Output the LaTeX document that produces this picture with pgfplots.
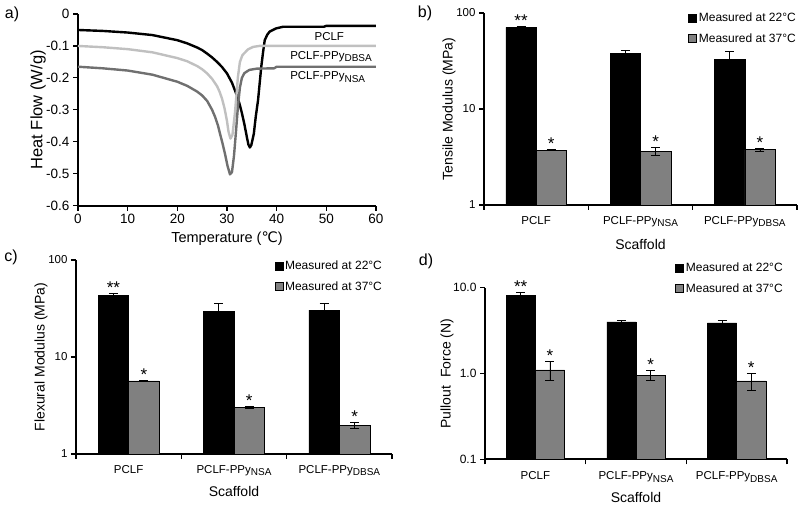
\documentclass[border=0pt]{standalone}
\usepackage{fontspec}
\setmainfont{Liberation Sans}
\newfontfamily\dejavu{DejaVu Sans}
\usepackage{pgfplots}
\pgfplotsset{compat=1.18}

\newcommand\fs[1]{\fontsize{#1bp}{#1bp}\selectfont}
\newcommand\sub[1]{\raisebox{-0.4ex}{\fs{10}#1}}
\definecolor{barg}{RGB}{128,128,128}
\definecolor{lgrey}{RGB}{192,192,192}
\definecolor{dgrey}{RGB}{112,112,112}

\pgfplotsset{
  mypanel/.style={
    scale only axis, anchor=south west, clip=false,
    axis x line*=bottom, axis y line*=left,
    axis line style={line width=1.8bp, -},
    tick align=outside,
    major tick length=5bp, minor tick length=5bp,
    tick style={black, line width=1.2bp},
  },
}
\tikzset{sig/.style={anchor=base, font=\fs{17}, inner sep=0pt}}

\begin{document}
\begin{tikzpicture}
\path[use as bounding box] (0,0) rectangle (800bp,507bp);

% a) DSC curves
\begin{axis}[mypanel, at={(78bp,301.3bp)}, width=298bp, height=191.7bp,
    xmin=0, xmax=60, ymin=-0.6, ymax=0,
    xtick={0,10,20,30,40,50,60}, xticklabels={0,10,20,30,40,50,60},
    ytick={-0.6,-0.5,-0.4,-0.3,-0.2,-0.1,0},
    yticklabels={-0.6,-0.5,-0.4,-0.3,-0.2,-0.1,0},
    ticklabel style={font=\fs{13.5}},
    xlabel={Temperature ({\dejavu ℃})}, ylabel={Heat Flow (W/g)},
    xlabel style={font=\fs{14.5}, at={(axis description cs:0.5,0)}, anchor=center, yshift=-33bp},
    ylabel style={font=\fs{16.5}, at={(axis description cs:0,0.5)}, anchor=center, yshift=40bp},
  ]
\addplot[black, line width=2.4bp, line join=round] coordinates {
(0,-0.050) (5,-0.053) (10,-0.058) (15,-0.066) (20,-0.082) (22,-0.092) (24,-0.105)
(25,-0.113) (26,-0.124) (27,-0.136) (28,-0.150) (29,-0.166) (30,-0.186) (31,-0.215)
(32,-0.255) (32.5,-0.280) (33,-0.310) (33.5,-0.345) (34,-0.385) (34.3,-0.408)
(34.6,-0.418) (34.9,-0.410) (35.4,-0.375) (35.8,-0.320) (36.25,-0.270) (36.9,-0.165)
(37.3,-0.115) (37.6,-0.082) (38.1,-0.065) (38.6,-0.055) (39.9,-0.045) (41.3,-0.040)
(49.5,-0.040) (50,-0.037) (60,-0.037)
};
\addplot[lgrey, line width=2.4bp, line join=round] coordinates {
(0,-0.100) (5,-0.104) (10,-0.110) (15,-0.120) (20,-0.138) (22,-0.148) (24,-0.163)
(25,-0.173) (26,-0.186) (27,-0.203) (28,-0.226) (28.5,-0.243) (29,-0.265) (29.5,-0.295)
(30,-0.335) (30.3,-0.368) (30.7,-0.390) (31.1,-0.378) (31.6,-0.310) (32.2,-0.197)
(32.6,-0.150) (33.1,-0.129) (34.2,-0.111) (35.25,-0.103) (36.5,-0.100) (60,-0.100)
};
\addplot[dgrey, line width=2.4bp, line join=round] coordinates {
(0,-0.165) (5,-0.170) (10,-0.177) (15,-0.190) (20,-0.212) (22,-0.225) (24,-0.243)
(25,-0.255) (26,-0.272) (27,-0.300) (27.6,-0.322) (28.2,-0.350) (28.6,-0.375)
(29.1,-0.405) (29.6,-0.438) (30.1,-0.475) (30.6,-0.502) (31,-0.495) (31.4,-0.445)
(31.8,-0.370) (32.2,-0.290) (32.6,-0.230) (33,-0.200) (33.5,-0.185) (34.5,-0.175)
(36,-0.171) (39.5,-0.170) (40,-0.165) (60,-0.165)
};
\node[font=\fs{11.5}, anchor=west, inner sep=0pt] at (axis cs:47.6,-0.071) {PCLF};
\node[font=\fs{11.5}, anchor=west, inner sep=0pt] at (axis cs:42.7,-0.134) {PCLF-PPy\sub{DBSA}};
\node[font=\fs{11.5}, anchor=west, inner sep=0pt] at (axis cs:42.7,-0.197) {PCLF-PPy\sub{NSA}};
\end{axis}

% b) tensile modulus
\begin{axis}[ybar, ymode=log, mypanel,
    at={(484bp,302bp)}, width=313bp, height=192bp,
    xmin=0.5, xmax=3.5, xtick={1,2,3},
    minor xtick={0.5,1.5,2.5,3.5}, major x tick style={draw=none},
    xticklabels={PCLF, PCLF-PPy\sub{NSA}, PCLF-PPy\sub{DBSA}},
    ymin=1, ymax=100, ytick={1,10,100}, yticklabels={1,10,100},
    yminorticks=false,
    ticklabel style={font=\fs{11.5}}, xticklabel style={yshift=-3bp},
    xlabel={Scaffold}, ylabel={Tensile Modulus (MPa)},
    label style={font=\fs{14}},
    xlabel style={at={(axis description cs:0.5,0)}, anchor=center, yshift=-39bp},
    ylabel style={at={(axis description cs:0,0.5)}, anchor=center, yshift=35bp},
    bar width=0.29,
    legend image code/.code={\draw[#1, line width=0.5bp] (0bp,-4bp) rectangle (8bp,4bp);},
    legend cell align=left,
    legend style={draw=none, fill=none, font=\fs{12}, inner sep=0pt, row sep=6bp,
      at={(1.003,1.01)}, anchor=north east},
  ]
\addplot[fill=black, draw=black, line width=0.5bp, bar shift=-0.145,
    error bars/.cd, y dir=both, y explicit,
    error bar style={black, line width=0.8bp},
    error mark options={rotate=90, black, mark size=4.5bp, line width=0.8bp}]
  coordinates {(1,71) +- (0,1.5) (2,38) +- (0,2.5) (3,33) +- (0,6.5)};
\addplot[fill=barg, draw=black, line width=0.5bp, bar shift=0.145,
    error bars/.cd, y dir=both, y explicit,
    error bar style={black, line width=0.8bp},
    error mark options={rotate=90, black, mark size=4.5bp, line width=0.8bp}]
  coordinates {(1,3.74) +- (0,0.05) (2,3.65) +- (0,0.34) (3,3.77) +- (0,0.12)};
\legend{Measured at 22°C, Measured at 37°C}
\node[sig] at (axis cs:0.855,72.5) {**};
\node[sig] at (axis cs:1.145,3.79) {*};
\node[sig] at (axis cs:2.145,3.99) {*};
\node[sig] at (axis cs:3.145,3.89) {*};
\end{axis}

% c) flexural modulus
\begin{axis}[ybar, ymode=log, mypanel,
    at={(76bp,53bp)}, width=316bp, height=194bp,
    xmin=0.5, xmax=3.5, xtick={1,2,3},
    minor xtick={0.5,1.5,2.5,3.5}, major x tick style={draw=none},
    xticklabels={PCLF, PCLF-PPy\sub{NSA}, PCLF-PPy\sub{DBSA}},
    ymin=1, ymax=100, ytick={1,10,100}, yticklabels={1,10,100},
    yminorticks=false,
    ticklabel style={font=\fs{11.5}}, xticklabel style={yshift=-3bp},
    xlabel={Scaffold}, ylabel={Flexural Modulus (MPa)},
    label style={font=\fs{14}},
    xlabel style={at={(axis description cs:0.5,0)}, anchor=center, yshift=-37bp},
    ylabel style={at={(axis description cs:0,0.5)}, anchor=center, yshift=35bp},
    bar width=0.29,
    legend image code/.code={\draw[#1, line width=0.5bp] (0bp,-4bp) rectangle (8bp,4bp);},
    legend cell align=left,
    legend style={draw=none, fill=none, font=\fs{12}, inner sep=0pt, row sep=6bp,
      at={(0.975,1.005)}, anchor=north east},
  ]
\addplot[fill=black, draw=black, line width=0.5bp, bar shift=-0.145,
    error bars/.cd, y dir=both, y explicit,
    error bar style={black, line width=0.8bp},
    error mark options={rotate=90, black, mark size=4.5bp, line width=0.8bp}]
  coordinates {(1,42.9) +- (0,2.5) (2,29.8) +- (0,6) (3,30.5) +- (0,5.3)};
\addplot[fill=barg, draw=black, line width=0.5bp, bar shift=0.145,
    error bars/.cd, y dir=both, y explicit,
    error bar style={black, line width=0.8bp},
    error mark options={rotate=90, black, mark size=4.5bp, line width=0.8bp}]
  coordinates {(1,5.66) +- (0,0.05) (2,3.03) +- (0,0.05) (3,1.99) +- (0,0.14)};
\legend{Measured at 22°C, Measured at 37°C}
\node[sig] at (axis cs:0.855,45.4) {**};
\node[sig] at (axis cs:1.145,5.71) {*};
\node[sig] at (axis cs:2.145,3.08) {*};
\node[sig] at (axis cs:3.145,2.13) {*};
\end{axis}

% d) pullout force
\begin{axis}[ybar, ymode=log, log origin y=infty, mypanel,
    at={(485bp,47.7bp)}, width=302bp, height=171.6bp,
    xmin=0.5, xmax=3.5, xtick={1,2,3},
    minor xtick={0.5,1.5,2.5,3.5}, major x tick style={draw=none},
    xticklabels={PCLF, PCLF-PPy\sub{NSA}, PCLF-PPy\sub{DBSA}},
    ymin=0.1, ymax=10, ytick={0.1,1,10}, yticklabels={0.1,1.0,10.0},
    yminorticks=false,
    ticklabel style={font=\fs{11.5}}, yticklabel style={font=\fs{12}},
    xticklabel style={yshift=-4bp},
    xlabel={Scaffold}, ylabel={Pullout\ \ Force (N)},
    label style={font=\fs{14}},
    xlabel style={at={(axis description cs:0.5,0)}, anchor=center, yshift=-38bp},
    ylabel style={at={(axis description cs:0,0.5)}, anchor=center, yshift=38bp},
    bar width=0.29,
    legend image code/.code={\draw[#1, line width=0.5bp] (0bp,-4bp) rectangle (8bp,4bp);},
    legend cell align=left,
    legend style={draw=none, fill=none, font=\fs{12}, inner sep=0pt, row sep=6bp,
      at={(0.993,1.155)}, anchor=north east},
  ]
\addplot[fill=black, draw=black, line width=0.5bp, bar shift=-0.145,
    error bars/.cd, y dir=both, y explicit,
    error bar style={black, line width=0.8bp},
    error mark options={rotate=90, black, mark size=4.5bp, line width=0.8bp}]
  coordinates {(1,8.2) +- (0,0.6) (2,4.0) +- (0,0.2) (3,3.9) +- (0,0.3)};
\addplot[fill=barg, draw=black, line width=0.5bp, bar shift=0.145,
    error bars/.cd, y dir=both, y explicit,
    error bar style={black, line width=0.8bp},
    error mark options={rotate=90, black, mark size=4.5bp, line width=0.8bp}]
  coordinates {(1,1.1) +- (0,0.27) (2,0.96) +- (0,0.12) (3,0.82) +- (0,0.19)};
\legend{Measured at 22°C, Measured at 37°C}
\node[sig] at (axis cs:0.855,8.8) {**};
\node[sig] at (axis cs:1.145,1.37) {*};
\node[sig] at (axis cs:2.145,1.08) {*};
\node[sig] at (axis cs:3.145,1.01) {*};
\end{axis}

\node[font=\fs{16}] at (12bp,493bp) {a)};
\node[font=\fs{16}] at (425bp,494bp) {b)};
\node[font=\fs{16}] at (11bp,250bp) {c)};
\node[font=\fs{16}] at (426bp,246bp) {d)};
\end{tikzpicture}
\end{document}
